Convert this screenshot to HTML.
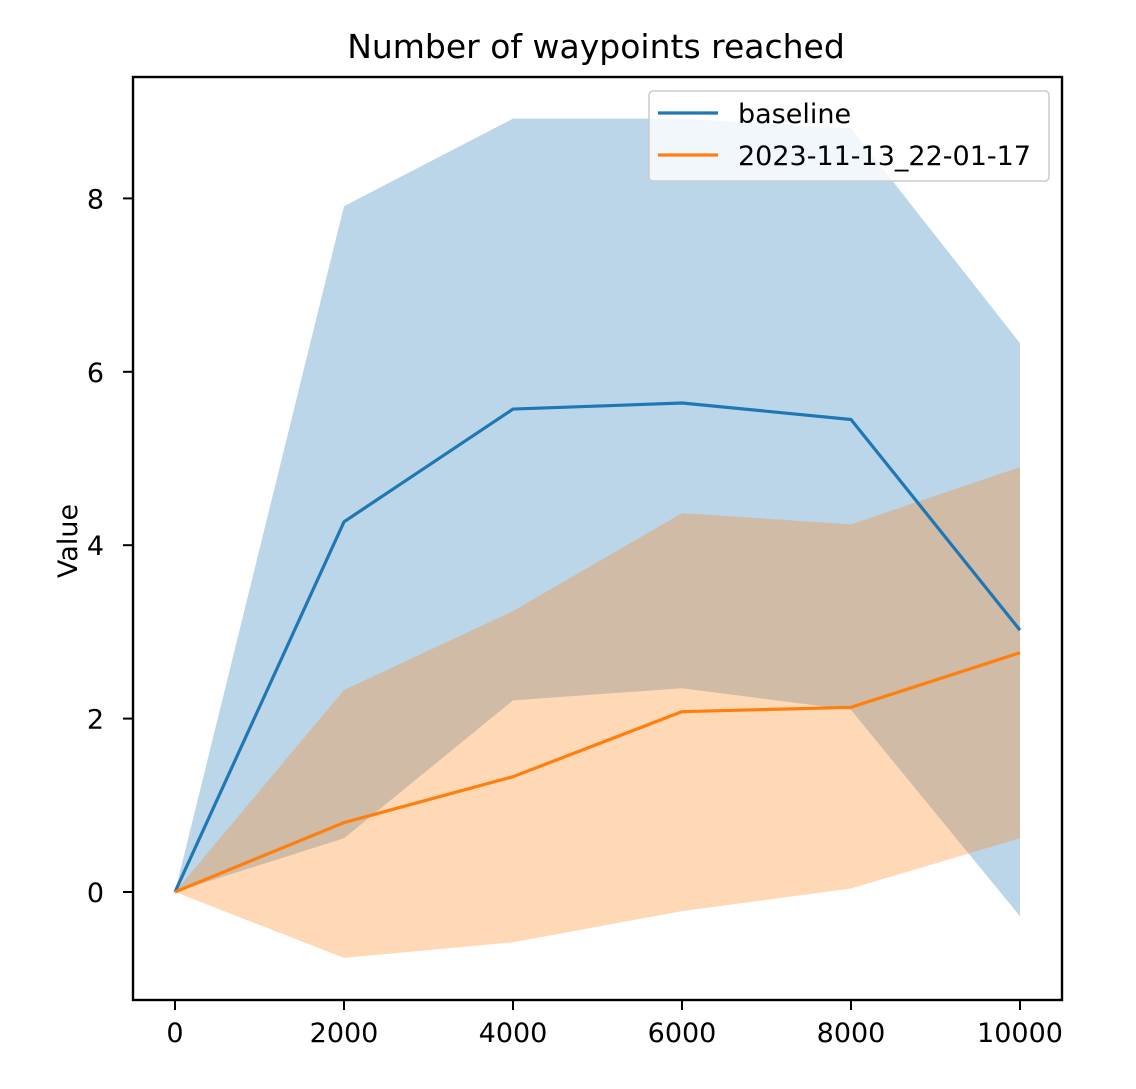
<!DOCTYPE html>
<html><head><meta charset="utf-8"><style>
html,body{margin:0;padding:0;background:#fff;}
svg text{font-family:"DejaVu Sans","Liberation Sans",sans-serif;fill:#000;}
</style></head><body>
<svg id="chart" width="1136" height="1084" viewBox="0 0 1136 1084" xmlns="http://www.w3.org/2000/svg">
<rect x="0" y="0" width="1136" height="1084" fill="#fff"/>
<text x="596" y="58" font-size="33" text-anchor="middle">Number of waypoints reached</text>
<g id="plot"></g>
<text transform="translate(77,541) rotate(-90)" font-size="27" text-anchor="middle">Value</text>
</svg>
<script>
const steps = [0, 2000, 4000, 6000, 8000, 10000];
const baselineMean = [0, 4.27, 5.57, 5.64, 5.45, 3.02];
const baselineUpper = [0, 7.91, 8.92, 8.92, 8.81, 6.33];
const baselineLower = [0, 0.62, 2.21, 2.35, 2.10, -0.28];
const runMean = [0, 0.80, 1.33, 2.08, 2.13, 2.76];
const runUpper = [0, 2.33, 3.24, 4.37, 4.24, 4.90];
const runLower = [0, -0.76, -0.58, -0.22, 0.04, 0.62];
const xTicks = [0, 2000, 4000, 6000, 8000, 10000];
const yTicks = [0, 2, 4, 6, 8];

const NS = 'http://www.w3.org/2000/svg';
const L = 133, R = 1062, T = 77, B = 1000;
const x = v => 175 + (v - 0) * (1020 - 175) / 10000;
const y = v => 892 - v * 86.7;
const g = document.getElementById('plot');
function mk(tag, attrs) { const e = document.createElementNS(NS, tag); for (const k in attrs) e.setAttribute(k, attrs[k]); g.appendChild(e); return e; }

function band(up, lo, color, name) {
  const pts = steps.map((s, i) => x(s) + ',' + y(up[i])).concat(steps.map((s, i) => x(s) + ',' + y(lo[i])).reverse());
  const p = mk('polygon', { points: pts.join(' '), fill: color, 'fill-opacity': 0.3 });
  
  
}
function line(vals, color, name) {
  const p = mk('polyline', { points: steps.map((s, i) => x(s) + ',' + y(vals[i])).join(' '), fill: 'none', stroke: color, 'stroke-width': 3.2, 'stroke-linejoin': 'round' });
  
  
}
band(baselineUpper, baselineLower, '#1f77b4', 'baseline-band');
band(runUpper, runLower, '#ff7f0e', 'run-band');
line(baselineMean, '#1f77b4', 'baseline-line');
line(runMean, '#ff7f0e', 'run-line');

const frame = mk('rect', { x: L, y: T, width: R - L, height: B - T, fill: 'none', stroke: '#000', 'stroke-width': 2.4 });



xTicks.forEach(v => {
  const t = mk('line', { x1: x(v), x2: x(v), y1: B, y2: B + 10, stroke: '#000', 'stroke-width': 2 });
  
  
  const l = mk('text', { x: x(v), y: B + 42, 'font-size': 27, 'text-anchor': 'middle' });
  l.textContent = v;
  
  
});
yTicks.forEach(v => {
  const t = mk('line', { x1: L - 10, x2: L, y1: y(v), y2: y(v), stroke: '#000', 'stroke-width': 2 });
  
  
  const l = mk('text', { x: L - 29, y: y(v) + 10, 'font-size': 27, 'text-anchor': 'end' });
  l.textContent = v;
  
  
});

const lg = mk('rect', { x: 649, y: 91, width: 400, height: 90, rx: 4, fill: '#fff', 'fill-opacity': 0.8, stroke: '#ccc', 'stroke-width': 1.5 });


[['baseline', '#1f77b4', 113], ['2023-11-13_22-01-17', '#ff7f0e', 155]].forEach(([name, c, yy]) => {
  const ln = mk('line', { x1: 658, x2: 718, y1: yy, y2: yy, stroke: c, 'stroke-width': 3.2 });
  
  
  const tx = mk('text', { x: 738, y: yy + 10, 'font-size': 27 });
  tx.textContent = name;
  
  
});
</script>
</body></html>
